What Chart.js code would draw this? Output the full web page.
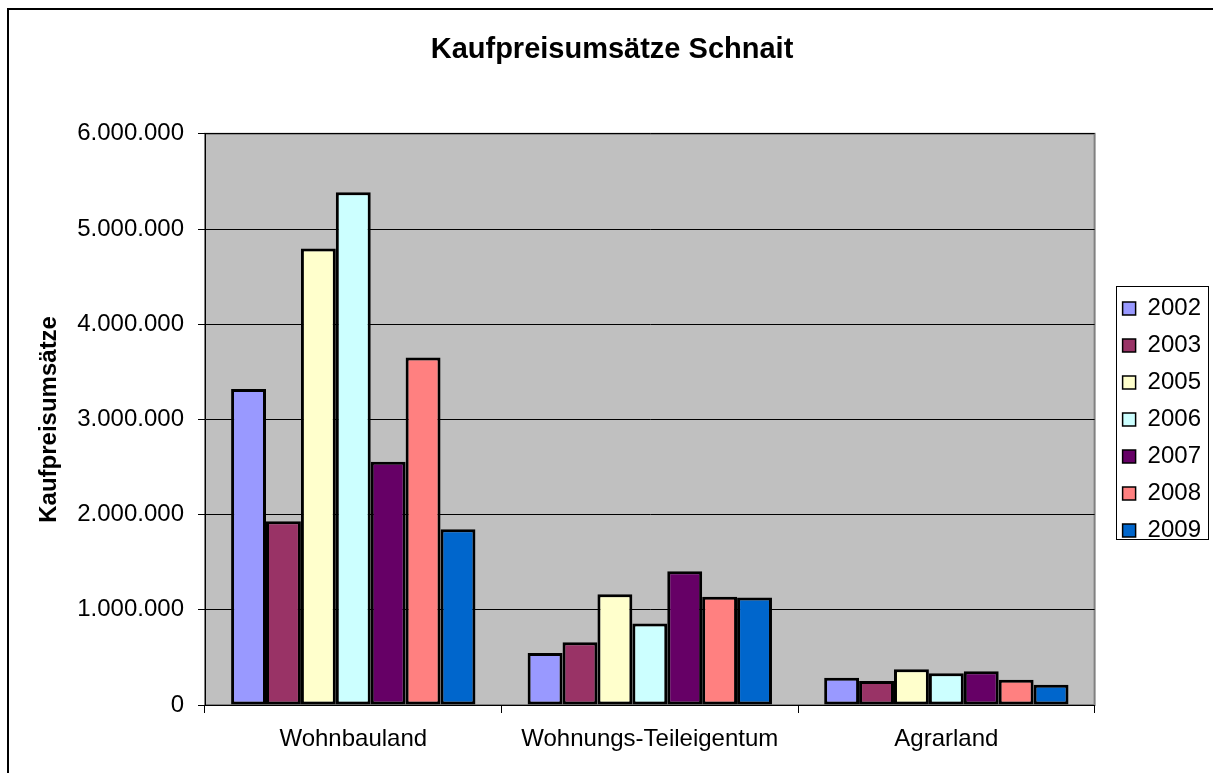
<!DOCTYPE html>
<html>
<head>
<meta charset="utf-8">
<script src="https://cdn.jsdelivr.net/npm/chart.js@4"></script>
<style>
    body { margin: 0; background: #fff; }
    #wrap { width: 1213px; height: 773px; }
</style>
</head>
<body>
<div id="wrap"><canvas id="chart" width="1213" height="773"></canvas></div>
<script>
const categories = ['Wohnbauland', 'Wohnungs-Teileigentum', 'Agrarland'];
const years = ['2002', '2003', '2005', '2006', '2007', '2008', '2009'];
const values2002 = [3320000, 545000, 287000];
const values2003 = [1930000, 660000, 252000];
const values2005 = [4795000, 1163000, 376000];
const values2006 = [5385000, 855000, 333000];
const values2007 = [2555000, 1404000, 355000];
const values2008 = [3650000, 1138000, 266000];
const values2009 = [1845000, 1128000, 213000];
const yTicks = [0, 1000000, 2000000, 3000000, 4000000, 5000000, 6000000];

const seriesValues = [values2002, values2003, values2005, values2006, values2007, values2008, values2009];
const colors = ['#9999FF', '#993366', '#FFFFCC', '#CCFFFF', '#660066', '#FF8080', '#0066CC'];

Chart.defaults.font.family = '"Liberation Sans", Arial, sans-serif';
Chart.defaults.color = '#000';

function formatDe(v) {
    return String(v).replace(/\B(?=(\d{3})+(?!\d))/g, '.');
}

// frame, plot background and legend box
const decorations = {
    id: 'decorations',
    beforeDraw(chart) {
        const ctx = chart.ctx;
        const a = chart.chartArea;
        ctx.save();
        ctx.fillStyle = '#000';
        ctx.fillRect(7, 8, chart.width - 7, 2);
        ctx.fillRect(7, 8, 2, chart.height - 8);
        ctx.fillStyle = '#C0C0C0';
        ctx.fillRect(a.left, a.top, a.right - a.left, a.bottom - a.top);
        ctx.strokeStyle = '#808080';
        ctx.lineWidth = 2;
        ctx.strokeRect(a.left, a.top, a.right - a.left, a.bottom - a.top);
        ctx.restore();
    },
    afterDraw(chart) {
        const lg = chart.legend;
        const boxes = lg.legendHitBoxes;
        if (!boxes || !boxes.length) return;
        const last = boxes[boxes.length - 1];
        const top = boxes[0].top - 10;
        const bottom = last.top + last.height - 3;
        const ctx = chart.ctx;
        ctx.save();
        ctx.strokeStyle = '#000';
        ctx.lineWidth = 1;
        ctx.strokeRect(Math.round(lg.left + 6) + 0.5, Math.round(top) + 0.5, 92, Math.round(bottom - top));
        ctx.restore();
    }
};

new Chart(document.getElementById('chart'), {
    type: 'bar',
    data: {
        labels: categories,
        datasets: years.map((y, i) => ({
            label: y,
            data: seriesValues[i],
            backgroundColor: colors[i],
            borderColor: '#000',
            borderWidth: 3,
            borderSkipped: false,
            categoryPercentage: 0.824,
            barPercentage: 1
        }))
    },
    options: {
        responsive: false,
        animation: false,
        layout: { padding: { left: 13, right: 2, top: 0, bottom: 0 } },
        plugins: {
            title: {
                display: true,
                text: 'Kaufpreisumsätze Schnait',
                font: { size: 29, weight: 'bold' },
                padding: { top: 33, bottom: 66 }
            },
            legend: {
                position: 'right',
                fullSize: false,
                labels: {
                    boxWidth: 13,
                    boxHeight: 13,
                    padding: 13,
                    font: { size: 24 },
                    color: '#000',
                    generateLabels(chart) {
                        const items = Chart.defaults.plugins.legend.labels.generateLabels(chart);
                        items.forEach(it => { it.lineWidth = 1.5; });
                        return items;
                    }
                }
            },
            tooltip: { enabled: false }
        },
        scales: {
            x: {
                grid: {
                    display: true,
                    drawOnChartArea: false,
                    offset: true,
                    tickLength: 8,
                    color: '#000'
                },
                border: { color: '#000', width: 1 },
                ticks: { font: { size: 24 }, padding: 12, color: '#000' },
                afterFit(scale) { scale.height = 68; }
            },
            y: {
                min: 0,
                max: 6000000,
                afterBuildTicks(scale) { scale.ticks = yTicks.map(v => ({ value: v })); },
                grid: { color: '#000', tickLength: 7 },
                border: { color: '#000', width: 1 },
                ticks: {
                    font: { size: 24 },
                    padding: 14,
                    color: '#000',
                    callback: v => formatDe(v)
                },
                title: {
                    display: true,
                    text: 'Kaufpreisumsätze',
                    font: { size: 24, weight: 'bold' },
                    padding: { top: 22, bottom: 0 },
                    color: '#000'
                },
                afterFit(scale) { scale.width = 192; }
            },
            gap: {
                type: 'linear',
                position: 'right',
                display: true,
                grid: { display: false },
                border: { display: false },
                ticks: { display: false },
                afterFit(scale) { scale.width = 15; }
            }
        }
    },
    plugins: [decorations]
});
</script>
</body>
</html>
